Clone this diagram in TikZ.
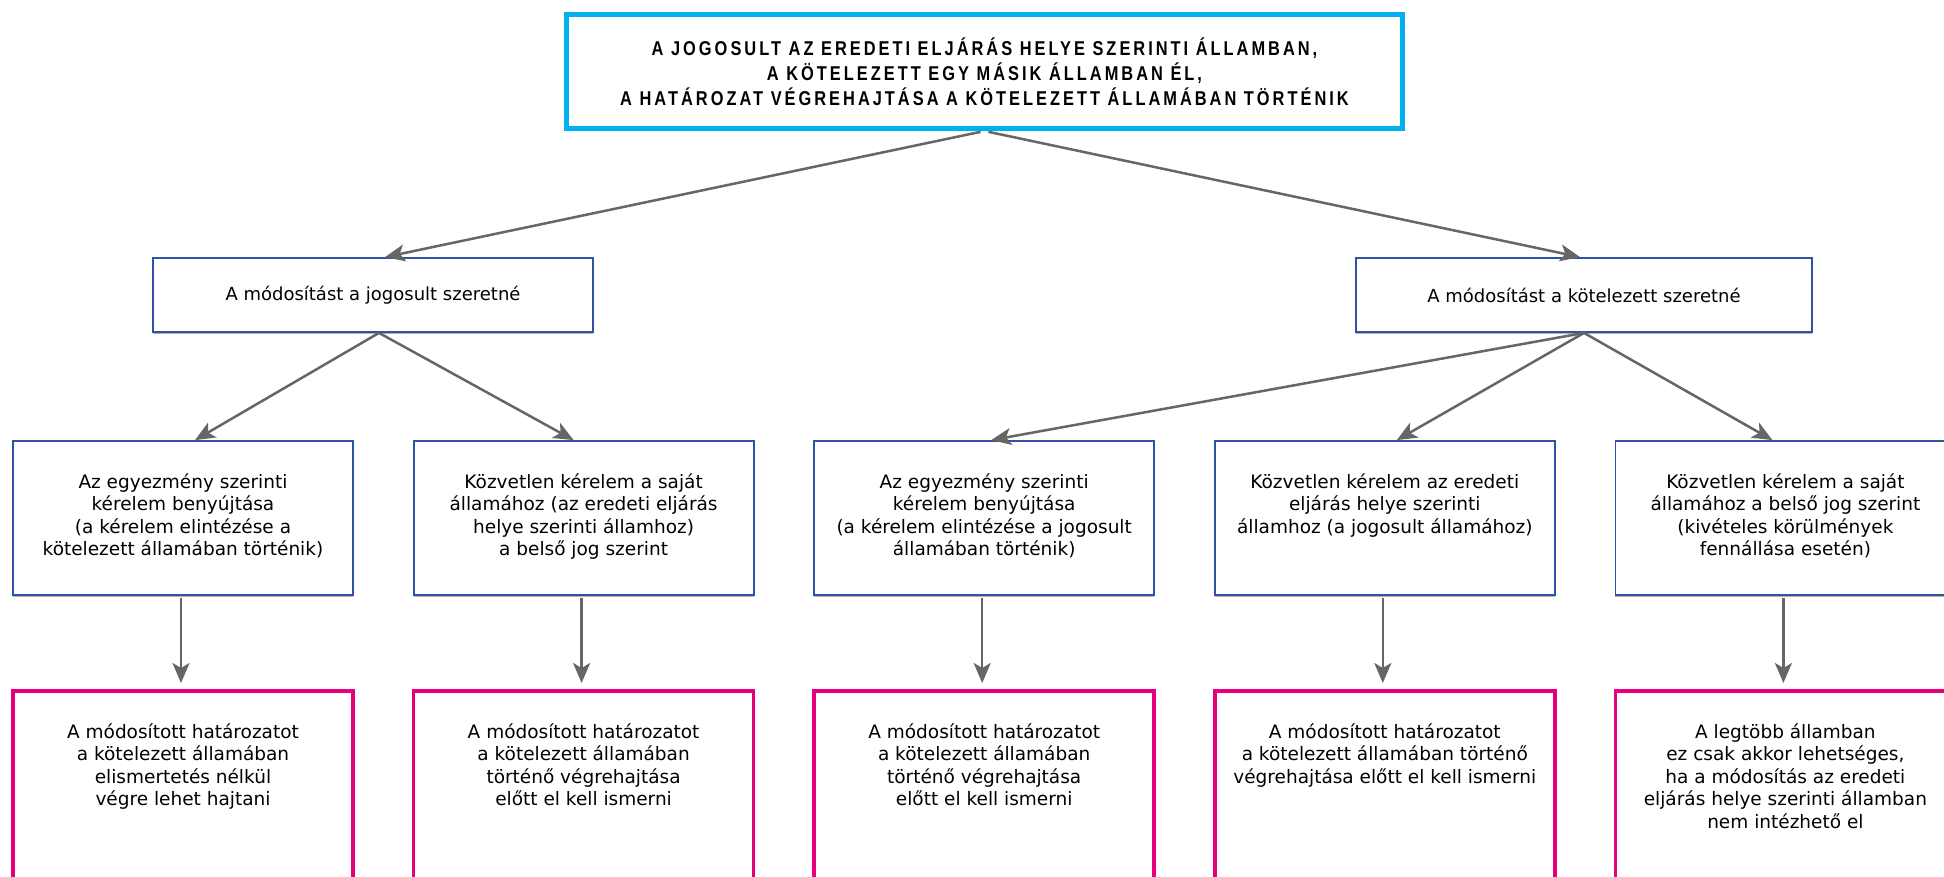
\documentclass[tikz,border=0pt]{standalone}
\usepackage{fontspec}
\usetikzlibrary{arrows.meta,shadows}
\newfontfamily\titlefont{Liberation Sans}[LetterSpace=15,FakeStretch=0.82]
\newfontfamily\bodyfont{DejaVu Sans}
\definecolor{framecyan}{RGB}{0,176,240}
\definecolor{frameblue}{RGB}{47,82,165}
\definecolor{framepink}{RGB}{230,0,126}
\definecolor{arrowgray}{RGB}{102,102,102}
\tikzset{
  topbox/.style={draw=framecyan, line width=5pt, fill=white, inner sep=0pt,
    minimum width=836pt, minimum height=114pt, align=center,
    font=\titlefont\bfseries\fontsize{20}{25}\selectfont},
  midbox/.style={draw=frameblue, line width=1.8pt, fill=white, inner sep=0pt,
    minimum height=74pt, font=\bodyfont\fontsize{18}{22}\selectfont,
    drop shadow={shadow xshift=0pt, shadow yshift=-2pt, fill=black!30, opacity=1}},
  leafbox/.style={draw=frameblue, line width=1.8pt, fill=white, inner sep=0pt,
    minimum width=340pt, minimum height=154pt,
    drop shadow={shadow xshift=0pt, shadow yshift=-2pt, fill=black!30, opacity=1}},
  endbox/.style={draw=framepink, line width=3.5pt, fill=white, inner sep=0pt,
    minimum width=340pt, minimum height=240pt},
  boxtext/.style={anchor=north, align=center, inner sep=0pt,
    font=\bodyfont\fontsize{18.5}{22.5}\selectfont},
  conn/.style={draw=arrowgray, line width=2.5pt,
    -{Stealth[length=20pt,width=17pt,inset=5pt]}},
  drop/.style={conn, shorten <=2pt, shorten >=6pt},
}
\begin{document}
\begin{tikzpicture}[x=1pt, y=-1pt]
  \useasboundingbox (0,0) rectangle (1944,876);
  \clip (0,0) rectangle (1944,876);
  \fill[white] (0,0) rectangle (1944,876);

  % heading
  \node[topbox] (top) at (984.5,71.5)
    {A JOGOSULT AZ EREDETI ELJÁRÁS HELYE SZERINTI ÁLLAMBAN,\\
     A KÖTELEZETT EGY MÁSIK ÁLLAMBAN ÉL,\\
     A HATÁROZAT VÉGREHAJTÁSA A KÖTELEZETT ÁLLAMÁBAN TÖRTÉNIK};

  % who asks for the modification
  \node[midbox, minimum width=440pt] (ja) at (373,295) {A módosítást a jogosult szeretné};
  \node[midbox, minimum width=456pt] (ko) at (1584,295) {A módosítást a kötelezett szeretné};

  % routes of the request
  \node[leafbox] (r1) at (183,518) {};
  \node[leafbox] (r2) at (583.6,518) {};
  \node[leafbox] (r3) at (984.2,518) {};
  \node[leafbox] (r4) at (1384.8,518) {};
  \node[leafbox] (r5) at (1785.4,518) {};

  \node[boxtext] (t1) at ([yshift=-33pt]r1.north)
    {Az egyezmény szerinti\\kérelem benyújtása\\(a kérelem elintézése a\\kötelezett államában történik)};
  \node[boxtext] (t2) at ([yshift=-33pt]r2.north)
    {Közvetlen kérelem a saját\\államához (az eredeti eljárás\\helye szerinti államhoz)\\a belső jog szerint};
  \node[boxtext] (t3) at ([yshift=-33pt]r3.north)
    {Az egyezmény szerinti\\kérelem benyújtása\\(a kérelem elintézése a jogosult\\államában történik)};
  \node[boxtext] (t4) at ([yshift=-33pt]r4.north)
    {Közvetlen kérelem az eredeti\\eljárás helye szerinti\\államhoz (a jogosult államához)};
  \node[boxtext] (t5) at ([yshift=-33pt]r5.north)
    {Közvetlen kérelem a saját\\államához a belső jog szerint\\(kivételes körülmények\\fennállása esetén)};

  % outcomes
  \node[endbox] (e1) at (183,810.75) {};
  \node[endbox] (e2) at (583.6,810.75) {};
  \node[endbox] (e3) at (984.2,810.75) {};
  \node[endbox] (e4) at (1384.8,810.75) {};
  \node[endbox] (e5) at (1785.4,810.75) {};

  \node[boxtext] (u1) at ([yshift=-34pt]e1.north)
    {A módosított határozatot\\a kötelezett államában\\elismertetés nélkül\\végre lehet hajtani};
  \node[boxtext] (u2) at ([yshift=-34pt]e2.north)
    {A módosított határozatot\\a kötelezett államában\\történő végrehajtása\\előtt el kell ismerni};
  \node[boxtext] (u3) at ([yshift=-34pt]e3.north)
    {A módosított határozatot\\a kötelezett államában\\történő végrehajtása\\előtt el kell ismerni};
  \node[boxtext] (u4) at ([yshift=-34pt]e4.north)
    {A módosított határozatot\\a kötelezett államában történő\\végrehajtása előtt el kell ismerni};
  \node[boxtext] (u5) at ([yshift=-34pt]e5.north)
    {A legtöbb államban\\ez csak akkor lehetséges,\\ha a módosítás az eredeti\\eljárás helye szerinti államban\\nem intézhető el};

  % connectors
  \draw[conn, shorten <=4pt] (top.south) -- ([xshift=12pt]ja.north);
  \draw[conn, shorten <=4pt] (top.south) -- ([xshift=-4pt]ko.north);

  \draw[conn] ([xshift=6pt]ja.south) -- ([xshift=12pt]r1.north);
  \draw[conn] ([xshift=6pt]ja.south) -- ([xshift=-10pt]r2.north);
  \draw[conn] (ko.south) -- ([xshift=7pt]r3.north);
  \draw[conn] (ko.south) -- ([xshift=12pt]r4.north);
  \draw[conn] (ko.south) -- ([xshift=-13pt]r5.north);

  \draw[drop] ([xshift=-2pt]r1.south) -- ([xshift=-2pt]e1.north);
  \draw[drop] ([xshift=-2pt]r2.south) -- ([xshift=-2pt]e2.north);
  \draw[drop] ([xshift=-2pt]r3.south) -- ([xshift=-2pt]e3.north);
  \draw[drop] ([xshift=-2pt]r4.south) -- ([xshift=-2pt]e4.north);
  \draw[drop] ([xshift=-2pt]r5.south) -- ([xshift=-2pt]e5.north);
\end{tikzpicture}
\end{document}
